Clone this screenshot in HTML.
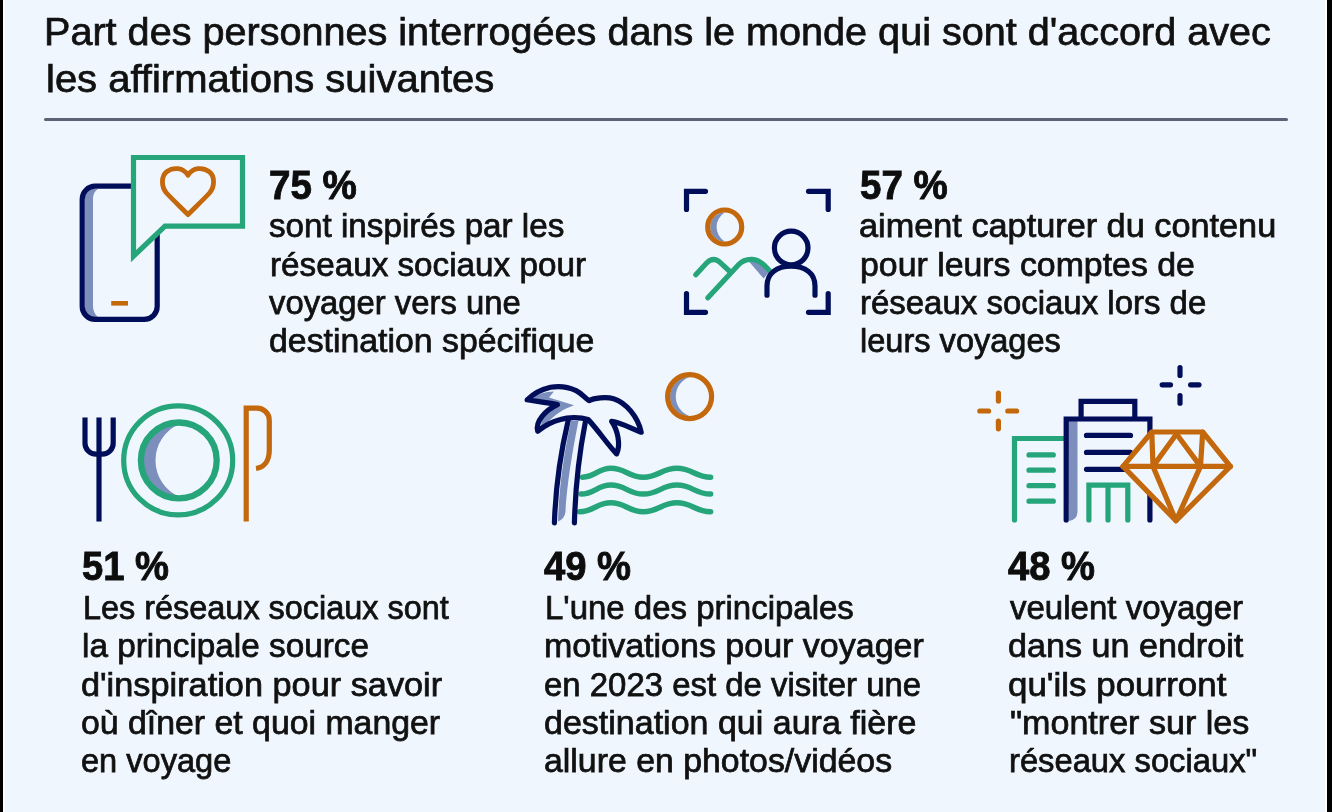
<!DOCTYPE html>
<html><head><meta charset="utf-8"><title>Infographie</title>
<style>
html,body{margin:0;padding:0}
body{width:1332px;height:812px;overflow:hidden;background:#eff6fe;position:relative;font-family:"Liberation Sans",sans-serif;color:#111}
.lb{position:absolute;left:0;top:0;width:3px;height:812px;background:#000}
.lw{position:absolute;left:3px;top:0;width:2px;height:812px;background:linear-gradient(90deg,#fff,#f6f9fe)}
.rb{position:absolute;left:1327px;top:0;width:5px;height:812px;background:#000}
.rw{position:absolute;left:1325px;top:0;width:2px;height:812px;background:#fff}
.rule{position:absolute;left:43.5px;top:118.3px;width:1244.5px;height:3.2px;background:#5d6276;border-radius:1.5px}
.t{filter:blur(0.3px);position:absolute;white-space:nowrap;transform-origin:0 0;color:#111;-webkit-text-stroke:0.75px #111}
.b{font-weight:bold;color:#0d0d0d;-webkit-text-stroke:0.9px #0d0d0d}
svg{position:absolute;left:0;top:0}

</style></head><body>
<div class="lb"></div><div class="lw"></div><div class="rw"></div><div class="rb"></div>
<div class="rule"></div>
<svg width="1332" height="812" viewBox="0 0 1332 812" fill="none" stroke-width="5.2">
<defs><filter id="bl" x="-5%" y="-5%" width="110%" height="110%"><feGaussianBlur stdDeviation="0.45"/></filter></defs>
<g filter="url(#bl)">
<!-- ICON 1: phone + bubble -->
<g id="i1">
<path d="M85 192 Q86 189 90 189 H98 Q93 192 93 199 V306 Q93 313 98 317 H90 Q86 317 85 313 Z" fill="#7b8fbc"/>
<rect x="82.2" y="186.2" width="75" height="133.2" rx="13" stroke="#060c58"/>
<path d="M111.2 303.3 H128" stroke="#c4680b" stroke-width="4.6"/>
<path d="M133.5 157.5 H242.5 V226.2 H165 L133.5 256.2 Z" fill="#eff6fe" stroke="#25a57a"/>
<path d="M188 214.6 C182 208.5 171.5 198.5 166.5 193 C161 186.5 161 176 167 171.5 C173.5 166.8 183 167.5 188 175.2 C193 167.5 202.5 166.8 209 171.5 C215 176 215 186.5 209.5 193 C204.5 198.5 194 208.5 188 214.6 Z" stroke="#c4680b" stroke-width="4.8" stroke-linejoin="round"/>
</g>
<!-- ICON 2: camera frame -->
<g id="i2" stroke-linecap="round">
<path d="M705.5 191.3 H686.5 V209.5 M808.5 191.3 H828.2 V209.5 M686.5 293.5 V312.3 H705.5 M828.2 293.5 V312.3 H808.5" stroke="#060c58"/>
<path d="M724.7 212.5 A14.5 14.5 0 0 0 724.7 241.5 A17 17 0 0 1 724.7 212.5 Z" fill="#7b8fbc"/>
<circle cx="724.7" cy="227" r="17" stroke="#c4680b"/>
<path d="M749.4 262 L763.6 278.6 L770 271 L760 260 Z" fill="#7b8fbc"/>
<path d="M695.8 274.7 L706.8 262.8 Q713.6 256.4 720.5 262.8 L729.9 271.5" stroke="#25a57a" stroke-linejoin="round"/>
<path d="M707.9 297.8 L738.5 264.8 C743 260 747 259.2 752 259.4 C757 259.6 760 261.5 763.6 264.6 L769 270" stroke="#25a57a" stroke-linejoin="round"/>
<circle cx="791.2" cy="248" r="16.8" stroke="#060c58" fill="#eff6fe"/>
<path d="M767 295.2 V286 C767 273 777 266.2 791 266.2 C805 266.2 815 273 815 286 V295.2" stroke="#060c58"/>
</g>
<!-- ICON 3: fork plate knife -->
<g id="i3">
<path d="M99 417.4 V521.5 M85 417.4 V443.2 a11 11 0 0 0 11 11 h6.2 a11 11 0 0 0 11 -11 V417.4" stroke="#060c58"/>
<path d="M179.5 424 A36.4 36.4 0 0 0 179.5 496.8 A39.6 39.6 0 0 1 179.5 424 Z" fill="#7b8fbc"/>
<circle cx="178.2" cy="460.4" r="54.5" stroke="#25a57a"/>
<circle cx="178.8" cy="460.4" r="37.9" stroke="#25a57a" stroke-width="6.3"/>
<path d="M246.2 521.5 V408.1 H257 A12.3 12.3 0 0 1 269.3 420.4 V450 C269.3 461 264 467.5 256 468.5" stroke="#c4680b"/>
</g>
<!-- ICON 4: palm, waves, sun -->
<g id="i4" stroke-linecap="round" stroke-linejoin="round">
<path d="M689.6 377 A19.6 19.6 0 0 0 689.6 416.2 A20.8 20.8 0 0 1 689.6 377 Z" fill="#7b8fbc"/>
<circle cx="689.6" cy="396.6" r="22" stroke="#c4680b"/>
<path d="M582.5 477.2 C595.5 477.2 597.8 468.2 610.8 468.2 C625.8 468.2 628.3 477.2 643.3 477.2 C658.8 477.2 661.4 468.2 676.9 468.2 C692.4 468.2 695.1 477.2 710.6 477.2" stroke="#25a57a" stroke-width="5.5"/>
<path d="M581 494.1 C594.7 494.1 597.1 485.1 610.8 485.1 C625.8 485.1 628.3 494.1 643.3 494.1 C658.8 494.1 661.4 485.1 676.9 485.1 C692.4 485.1 695.1 494.1 710.6 494.1" stroke="#25a57a" stroke-width="5.5"/>
<path d="M579.5 511.8 C593.9 511.8 596.4 502.8 610.8 502.8 C625.8 502.8 628.3 511.8 643.3 511.8 C658.8 511.8 661.4 502.8 676.9 502.8 C692.4 502.8 695.1 511.8 710.6 511.8" stroke="#25a57a" stroke-width="5.5"/>
<!-- trunk fill -->
<path d="M568.2 420.4 C560 455 555.5 490 554.4 522.9 H574.4 C575.3 490 579.5 452 585.3 422.3 Z" fill="#eff6fe"/>
<path d="M571 421 L578.5 421 C571.5 455 566.5 490 565.5 512 Q564.5 519 558 521.5 C559 488 564 452 571 421 Z" fill="#7b8fbc"/>
<path d="M568.2 420.4 C560 455 555.5 490 554.4 522.9 M585.3 422.3 C579.5 452 575.3 490 574.4 522.9" stroke="#060c58"/>
<!-- fronds -->
<path d="M527.2 399.8 C533 394 541 389.5 550.5 387.3 C560 385.6 569 387.3 576.1 390.6 C582 393.6 585 398 589 400.6 C594 398 606 396.5 613.6 398.7 C626 402.5 638 417 641.2 432.2 C630 428 622 423 611.6 421.3 C617.5 430 621 444 616.6 453.9 C608 445 598 430 588 419.4 C580 417 568 417.2 560.4 419.4 C552 421.5 544 426 537.7 431.2 C535 421 546 410 557.4 404.6 C548 402.5 538 401.5 527.2 399.8 Z" fill="#eff6fe"/>
<path d="M530 399.3 C537 394 545 391.8 554 391.5 L549 397.5 L574 405.2 L565 409 C557 413 548 421 542 429.5 C538.5 421 548 409 558 405.5 Z" fill="#7b8fbc"/>
<path d="M527.2 399.8 C533 394 541 389.5 550.5 387.3 C560 385.6 569 387.3 576.1 390.6 C582 393.6 585 398 589 400.6 C594 398 606 396.5 613.6 398.7 C626 402.5 638 417 641.2 432.2 C630 428 622 423 611.6 421.3 C617.5 430 621 444 616.6 453.9 C608 445 598 430 588 419.4 C580 417 568 417.2 560.4 419.4 C552 421.5 544 426 537.7 431.2 C535 421 546 410 557.4 404.6 C548 402.5 538 401.5 527.2 399.8 Z" stroke="#060c58"/>
</g>
<!-- ICON 5: buildings, diamond, sparkles -->
<g id="i5" stroke-linecap="round">
<path d="M998.4 393.2 V401 M998.4 421 V428.8 M979.8 411 H988.6 M1007.8 411 H1016.6" stroke="#c4680b"/>
<path d="M1180 367.7 V375.4 M1180 395.6 V403.2 M1162.2 384.8 H1170.5 M1190.6 384.8 H1199" stroke="#060c58"/>
<path d="M1068 421 H1077.5 V512 Q1077 520 1069 521 Z" fill="#7b8fbc"/>
<path d="M1014.5 520 V438.5 H1064" stroke="#25a57a"/>
<path d="M1029 454.9 H1053.3 M1029 470.2 H1053.3 M1029 485.7 H1053.3 M1029 501.2 H1053.3" stroke="#25a57a"/>
<path d="M1066.2 520 V419 H1149.9 V520" stroke="#060c58"/>
<path d="M1081.1 417 V401.3 H1134.8 V417" stroke="#060c58" stroke-linecap="butt"/>
<path d="M1086.5 435.4 H1130.5 M1086.5 452.4 H1130.5 M1086.5 469.3 H1125" stroke="#060c58"/>
<path d="M1088.9 520 V485.1 H1127.8 V520 M1108 485.1 V520" stroke="#25a57a"/>
<path d="M1123 466.4 L1151.8 432 H1202.7 L1230.4 466.4 L1176 520.7 Z" fill="#eff6fe" stroke="#c4680b" stroke-linejoin="round"/>
<path d="M1123 466.4 H1230.4 M1151.8 432 L1153 466.4 L1176 520.7 L1200.5 466.4 L1202.7 432 M1153 466.4 L1176.5 434 L1200.5 466.4" stroke="#c4680b" stroke-linejoin="round"/>
</g>
</g>
</svg>

<div class="t" style="left:43.93px;top:12.36px;font-size:39.5px;line-height:39.5px;transform:scaleX(1.0023)">Part des personnes interrogées dans le monde qui sont d'accord avec</div>
<div class="t" style="left:45.51px;top:58.56px;font-size:39.5px;line-height:39.5px;transform:scaleX(1.0124)">les affirmations suivantes</div>
<div class="t b" style="left:269.31px;top:165.14px;font-size:40.0px;line-height:40.0px;transform:scaleX(0.9638)">75 %</div>
<div class="t" style="left:269.34px;top:208.94px;font-size:33.5px;line-height:33.5px;transform:scaleX(0.9912)">sont inspirés par les</div>
<div class="t" style="left:269.56px;top:247.54px;font-size:33.5px;line-height:33.5px;transform:scaleX(0.9923)">réseaux sociaux pour</div>
<div class="t" style="left:269.14px;top:286.04px;font-size:33.5px;line-height:33.5px;transform:scaleX(0.9793)">voyager vers une</div>
<div class="t" style="left:269.32px;top:324.34px;font-size:33.5px;line-height:33.5px;transform:scaleX(1.0098)">destination spécifique</div>
<div class="t b" style="left:859.69px;top:165.14px;font-size:40.0px;line-height:40.0px;transform:scaleX(0.9622)">57 %</div>
<div class="t" style="left:859.12px;top:208.94px;font-size:33.5px;line-height:33.5px;transform:scaleX(1.0230)">aiment capturer du contenu</div>
<div class="t" style="left:859.63px;top:247.54px;font-size:33.5px;line-height:33.5px;transform:scaleX(1.0104)">pour leurs comptes de</div>
<div class="t" style="left:859.62px;top:286.04px;font-size:33.5px;line-height:33.5px;transform:scaleX(0.9838)">réseaux sociaux lors de</div>
<div class="t" style="left:859.66px;top:324.34px;font-size:33.5px;line-height:33.5px;transform:scaleX(0.9718)">leurs voyages</div>
<div class="t b" style="left:81.69px;top:546.14px;font-size:40.0px;line-height:40.0px;transform:scaleX(0.9540)">51 %</div>
<div class="t" style="left:82.72px;top:590.64px;font-size:33.5px;line-height:33.5px;transform:scaleX(0.9677)">Les réseaux sociaux sont</div>
<div class="t" style="left:81.53px;top:629.14px;font-size:33.5px;line-height:33.5px;transform:scaleX(0.9945)">la principale source</div>
<div class="t" style="left:81.12px;top:667.64px;font-size:33.5px;line-height:33.5px;transform:scaleX(1.0238)">d'inspiration pour savoir</div>
<div class="t" style="left:81.12px;top:706.14px;font-size:33.5px;line-height:33.5px;transform:scaleX(1.0095)">où dîner et quoi manger</div>
<div class="t" style="left:81.11px;top:744.44px;font-size:33.5px;line-height:33.5px;transform:scaleX(0.9723)">en voyage</div>
<div class="t b" style="left:544.32px;top:546.14px;font-size:40.0px;line-height:40.0px;transform:scaleX(0.9549)">49 %</div>
<div class="t" style="left:544.71px;top:590.64px;font-size:33.5px;line-height:33.5px;transform:scaleX(0.9844)">L'une des principales</div>
<div class="t" style="left:544.39px;top:629.14px;font-size:33.5px;line-height:33.5px;transform:scaleX(1.0147)">motivations pour voyager</div>
<div class="t" style="left:544.12px;top:667.64px;font-size:33.5px;line-height:33.5px;transform:scaleX(0.9829)">en 2023 est de visiter une</div>
<div class="t" style="left:544.12px;top:706.14px;font-size:33.5px;line-height:33.5px;transform:scaleX(1.0151)">destination qui aura fière</div>
<div class="t" style="left:544.12px;top:744.44px;font-size:33.5px;line-height:33.5px;transform:scaleX(1.0102)">allure en photos/vidéos</div>
<div class="t b" style="left:1007.93px;top:546.14px;font-size:40.0px;line-height:40.0px;transform:scaleX(0.9545)">48 %</div>
<div class="t" style="left:1009.53px;top:590.64px;font-size:33.5px;line-height:33.5px;transform:scaleX(0.9855)">veulent voyager</div>
<div class="t" style="left:1008.12px;top:629.14px;font-size:33.5px;line-height:33.5px;transform:scaleX(1.0187)">dans un endroit</div>
<div class="t" style="left:1008.12px;top:667.64px;font-size:33.5px;line-height:33.5px;transform:scaleX(1.0429)">qu'ils pourront</div>
<div class="t" style="left:1009.72px;top:706.14px;font-size:33.5px;line-height:33.5px;transform:scaleX(1.0169)">&quot;montrer sur les</div>
<div class="t" style="left:1008.64px;top:744.44px;font-size:33.5px;line-height:33.5px;transform:scaleX(0.9770)">réseaux sociaux&quot;</div>
</body></html>
